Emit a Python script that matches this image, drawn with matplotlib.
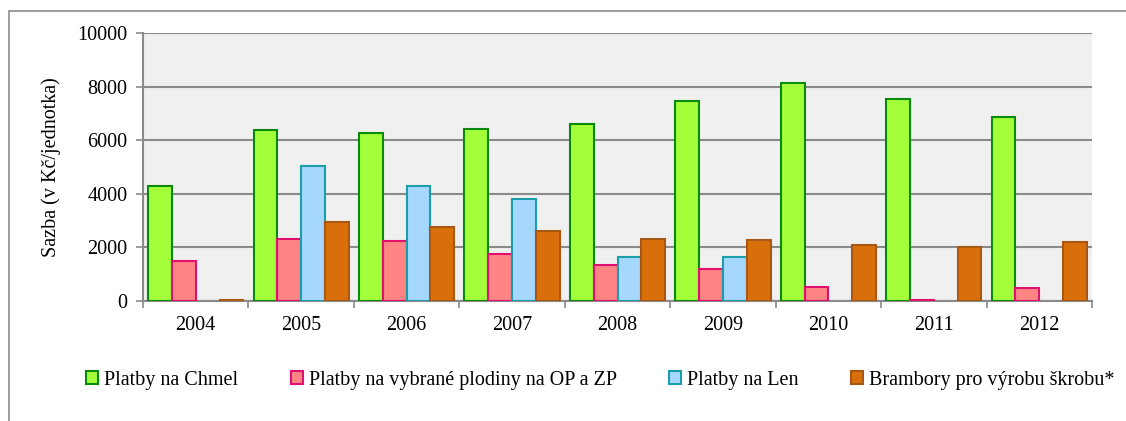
import numpy as np
import matplotlib.pyplot as plt
from matplotlib.patches import Rectangle

plt.rcParams['font.family'] = ['Liberation Serif', 'DejaVu Serif']

years = ['2004', '2005', '2006', '2007', '2008', '2009', '2010', '2011', '2012']
chmel = [4300, 6380, 6280, 6400, 6600, 7480, 8120, 7530, 6880]
plodiny = [1480, 2310, 2250, 1750, 1340, 1200, 520, 30, 500]
len_ = [np.nan, 5040, 4300, 3820, 1630, 1650, np.nan, np.nan, np.nan]
brambory = [30, 2960, 2770, 2620, 2300, 2280, 2100, 2030, 2210]

series = [
    ('Platby na Chmel', chmel, '#A3FF3A', '#0A8A0A'),
    ('Platby na vybrané plodiny na OP a ZP', plodiny, '#FF8585', '#E0106F'),
    ('Platby na Len', len_, '#A6D8FF', '#1A9FAA'),
    ('Brambory pro výrobu škrobu*', brambory, '#D86F0B', '#A85812'),
]

fs = 14.5

fig = plt.figure(figsize=(11.26, 4.21), dpi=100)
fig.patches.append(Rectangle((9 / 1126, -0.1), 1.2, 1 - 11 / 421 + 0.1,
                             transform=fig.transFigure, fill=False,
                             edgecolor='#8c8c8c', linewidth=1.2))
ax = fig.add_axes([143 / 1126, 1 - 301 / 421, (1092 - 143) / 1126, (301 - 33) / 421])
ax.set_facecolor('#F0F0F0')

x = np.arange(len(years))
w = 0.226
for i, (name, vals, fc, ec) in enumerate(series):
    ax.bar(x + (i - 1.5) * w, vals, w, color=fc, edgecolor=ec, linewidth=1.5,
           label=name, zorder=3)

ax.set_xlim(-0.5, len(years) - 0.5)
ax.set_ylim(0, 10000)
ax.set_yticks(range(0, 10001, 2000))
ax.yaxis.grid(True, color='#8a8a8a', linewidth=1.5, zorder=0)
ax.set_xticks(x)
ax.set_xticklabels(years)
ax.set_xticks(np.arange(-0.5, len(years)), minor=True)
ax.tick_params(axis='x', which='major', length=0, pad=11, labelsize=fs)
ax.tick_params(axis='x', which='minor', length=5, color='#8a8a8a', width=1.2)
ax.tick_params(axis='y', length=5, color='#8a8a8a', width=1.2, labelsize=fs, pad=6)
for s in ['top', 'right']:
    ax.spines[s].set_visible(False)
for s in ['left', 'bottom']:
    ax.spines[s].set_color('#8a8a8a')
    ax.spines[s].set_linewidth(1.5)
ax.set_ylabel('Sazba (v Kč/jednotka)', fontsize=fs, labelpad=12)

ax.legend(loc='center', bbox_to_anchor=(0.482, -0.295), ncol=4, frameon=False,
          fontsize=fs, handlelength=0.6, handleheight=0.6, handletextpad=0.3,
          columnspacing=2.6)

fig.savefig('out.png', dpi=100)
